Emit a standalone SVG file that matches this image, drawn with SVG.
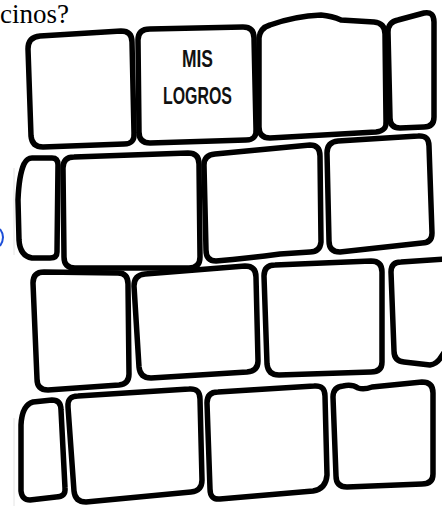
<svg xmlns="http://www.w3.org/2000/svg" width="442" height="506" viewBox="0 0 442 506">
<style>
.b{fill:#fff;stroke:#000;stroke-width:5.5;stroke-linejoin:round;stroke-linecap:round}
.t{font-family:"Liberation Sans",Arial,sans-serif;font-size:24px;font-weight:700;fill:#111;text-anchor:middle}
.q{font-family:"Liberation Serif","Times New Roman",serif;font-size:27px;fill:#000}
.f{stroke:#e4e4e4;stroke-width:1}
</style>
<rect width="442" height="506" fill="#fff"/>
<text class="q" x="0" y="23">cinos?</text>
<line class="f" x1="14" y1="168" x2="14" y2="255"/>
<line class="f" x1="14" y1="418" x2="14" y2="506"/>
<path d="M0,229 Q6,237 0,246" fill="none" stroke="#1d4fd8" stroke-width="2"/>
<g id="bricks">
<g id="brick-a"><path class="b" d="M40,36 L121,31 Q132,31 132,42 L134,133 Q135,144 124,144 L43,147 Q32,147 31,136 L28,49 Q28,37 40,36 Z"/></g>
<g id="brick-b"><path class="b" d="M150,29 L243,27 Q254,27 254,38 L256,129 Q257,140 246,140 L150,143 Q139,143 139,132 L138,40 Q138,29 150,29 Z"/></g>
<g id="brick-b-label">
<text class="t" x="197.5" y="67" textLength="31" lengthAdjust="spacingAndGlyphs">MIS</text>
<text class="t" x="197.5" y="104" textLength="69" lengthAdjust="spacingAndGlyphs">LOGROS</text>
</g>
<g id="brick-c"><path class="b" d="M270,25 Q295,16 321,15 Q332,16 341,20 L374,22 Q385,23 385,34 L386,121 Q387,131 376,132 L270,138 Q259,138 259,127 L259,38 Q260,28 270,25 Z"/></g>
<g id="brick-d"><path class="b" d="M398,20 L424,13 Q434,11 434,22 L434,117 Q434,127 424,127 L400,128 Q390,128 390,118 L388,32 Q388,22 398,20 Z"/></g>
<g id="brick-e"><path class="b" d="M32,158 L52,158 Q58,158 58,165 L57,252 Q57,258 50,258 L32,258 Q20,256 19,240 L18,200 Q19,175 24,164 Q27,158 32,158 Z"/></g>
<g id="brick-f"><path class="b" d="M74,157 L188,153 Q199,153 199,164 L200,257 Q200,268 189,268 L75,268 Q64,268 64,257 L63,168 Q63,157 74,157 Z"/></g>
<g id="brick-g"><path class="b" d="M215,154 L310,145 Q320,145 320,156 L321,242 Q320,252 310,252 L280,254 Q250,258 216,261 Q206,261 206,250 L204,165 Q204,155 215,154 Z"/></g>
<g id="brick-h"><path class="b" d="M338,141 L418,136 Q429,135 429,146 L432,233 Q432,243 422,243 L340,252 Q329,252 329,241 L327,153 Q327,142 338,141 Z"/></g>
<g id="brick-i"><path class="b" d="M44,272 L118,273 Q128,273 128,284 L129,374 Q129,384 119,385 L48,390 Q37,390 37,379 L33,283 Q33,272 44,272 Z"/></g>
<g id="brick-j"><path class="b" d="M145,274 L245,266 Q256,266 256,277 L258,361 Q258,371 247,372 L151,378 Q140,378 139,367 L134,286 Q134,275 145,274 Z"/></g>
<g id="brick-k"><path class="b" d="M275,265 L371,261 Q382,261 382,272 L382,362 Q382,372 371,372 L279,375 Q268,375 267,364 L264,276 Q264,265 275,265 Z"/></g>
<g id="brick-l"><path class="b" d="M401,262 L446,259 L446,350 L441,357 Q437,364 430,365 L404,362 Q394,361 394,351 L391,272 Q391,262 401,262 Z"/></g>
<g id="brick-m"><path class="b" d="M33,402 L52,400 Q61,400 61,410 L65,488 Q66,497 56,497 L30,500 Q22,500 21,491 L21,425 Q22,405 33,402 Z"/></g>
<g id="brick-n"><path class="b" d="M78,396 L189,389 Q200,388 200,399 L202,480 Q202,491 191,492 L86,502 Q75,502 74,491 L68,407 Q67,396 78,396 Z"/></g>
<g id="brick-o"><path class="b" d="M218,392 L314,386 Q325,385 325,396 L327,475 Q326,489 313,491 L220,499 Q210,500 210,489 L207,403 Q207,392 218,392 Z"/></g>
<g id="brick-p"><path class="b" d="M343,386 Q352,384 358,388 Q364,390 372,387 L422,382 Q433,382 433,393 L433,474 Q433,484 422,484 L347,487 Q336,487 336,476 L333,397 Q333,387 343,386 Z"/></g>
</g>
<g id="connectors"></g>
</svg>
